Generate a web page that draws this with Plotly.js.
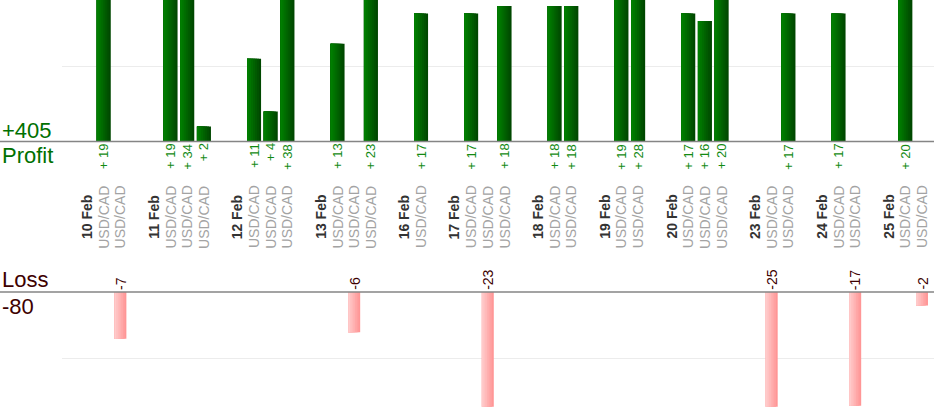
<!DOCTYPE html>
<html>
<head>
<meta charset="utf-8">
<script src="https://cdn.plot.ly/plotly-3.0.1.min.js"></script>
<style>html,body{margin:0;padding:0;background:#fff;}#chart{width:934px;height:420px;}</style>
</head>
<body>
<div id="chart"></div>
<script>
// ---- data ----
const dates = ['10 Feb','11 Feb','12 Feb','13 Feb','16 Feb','17 Feb','18 Feb','19 Feb','20 Feb','23 Feb','24 Feb','25 Feb'];
const results = [[19,-7],[19,34,2],[11,4,38],[13,-6,23],[17],[17,-23,18],[18,18],[19,28],[17,16,20],[-25,17],[17,-17],[20,-2]];
const pair = 'USD/CAD';
const profitTitle = 'Profit';
const lossTitle = 'Loss';

// ---- build slots ----
let slot = 0;
const dateX = [], tradeX = [], tradeV = [];
dates.forEach((d, i) => {
  slot++;               // blank spacer slot
  dateX.push(slot); slot++;
  results[i].forEach(v => { tradeX.push(slot); tradeV.push(v); slot++; });
});
const profitX = [], profitY = [], lossX = [], lossY = [];
tradeX.forEach((x, i) => {
  if (tradeV[i] > 0) { profitX.push(x); profitY.push(tradeV[i]); }
  else { lossX.push(x); lossY.push(tradeV[i]); }
});
const totalProfit = profitY.reduce((a, b) => a + b, 0);
const totalLoss = lossY.reduce((a, b) => a + b, 0);

// ---- geometry ----
const W = 934, H = 420, L = 62;
const profitDomain = [1 - 141.5 / H, 1];
const lossDomain = [(H - 406.7) / H, (H - 292) / H];
const leftPaper = -L / (W - L);
const FAM = 'Liberation Sans, Arial, sans-serif';

function lerp(c1, c2, t) {
  return 'rgb(' + c1.map((v, i) => Math.round(v + (c2[i] - v) * t)).join(',') + ')';
}
const N = 7;
const traces = [];
const PW = 0.84, LW = 0.71;
for (let k = 0; k < N; k++) {
  const t = k / (N - 1);
  traces.push({
    type: 'bar', x: profitX, y: profitY, xaxis: 'x', yaxis: 'y',
    width: PW * (1 - k / N), offset: -PW / 2,
    marker: { color: lerp([0, 72, 0], [0, 126, 0], t), line: { width: 0 } },
    hoverinfo: 'skip'
  });
  traces.push({
    type: 'bar', x: lossX, y: lossY, xaxis: 'x', yaxis: 'y2',
    width: LW * (1 - k / N), offset: -LW / 2,
    marker: { color: lerp([255, 150, 150], [255, 202, 202], t), line: { width: 0 } },
    hoverinfo: 'skip'
  });
}

const ann = [];
const labelY = (H - 217) / H;
dates.forEach((d, i) => {
  ann.push({ xref: 'x', yref: 'paper', x: dateX[i], y: labelY, text: '<b>' + d + '</b>',
    textangle: -90, showarrow: false, xanchor: 'center', yanchor: 'middle',
    font: { family: FAM, size: 14, color: '#333333' } });
});
tradeX.forEach((x, i) => {
  ann.push({ xref: 'x', yref: 'paper', x: x, y: labelY, text: pair,
    textangle: -90, showarrow: false, xanchor: 'center', yanchor: 'middle',
    font: { family: FAM, size: 14, color: '#a3a3a3' } });
});
profitX.forEach((x, i) => {
  ann.push({ xref: 'x', yref: 'paper', x: x, y: profitDomain[0], text: '+ ' + profitY[i],
    textangle: -90, showarrow: false, xanchor: 'center', yanchor: 'top', yshift: 0,
    font: { family: FAM, size: 13, color: '#138a13' } });
});
lossX.forEach((x, i) => {
  ann.push({ xref: 'x', yref: 'paper', x: x, y: lossDomain[1], text: String(lossY[i]),
    textangle: -90, showarrow: false, xanchor: 'center', yanchor: 'bottom', yshift: 0,
    font: { family: FAM, size: 14, color: '#3d0000' } });
});
const bigFont = (c) => ({ family: FAM, size: 22, color: c });
ann.push({ xref: 'paper', yref: 'paper', x: leftPaper, y: profitDomain[0], text: '+' + totalProfit,
  showarrow: false, xanchor: 'left', yanchor: 'bottom', yshift: -3, font: bigFont('#007000') });
ann.push({ xref: 'paper', yref: 'paper', x: leftPaper, y: profitDomain[0], text: profitTitle,
  showarrow: false, xanchor: 'left', yanchor: 'top', yshift: 1, font: bigFont('#007000') });
ann.push({ xref: 'paper', yref: 'paper', x: leftPaper, y: lossDomain[1], text: lossTitle,
  showarrow: false, xanchor: 'left', yanchor: 'bottom', yshift: -2, font: bigFont('#3d0000') });
ann.push({ xref: 'paper', yref: 'paper', x: leftPaper, y: lossDomain[1], text: String(totalLoss),
  showarrow: false, xanchor: 'left', yanchor: 'top', font: bigFont('#3d0000') });

const layout = {
  width: W, height: H,
  margin: { l: L, r: 0, t: 0, b: 0, pad: 0 },
  paper_bgcolor: '#ffffff', plot_bgcolor: 'rgba(0,0,0,0)',
  showlegend: false, barmode: 'overlay',
  font: { family: FAM },
  xaxis: { range: [-0.5, -0.5 + (W - L) / 16.7], showgrid: false, zeroline: false,
    showticklabels: false, showline: false, ticks: '', fixedrange: true },
  yaxis: { domain: profitDomain, range: [0, 18.8], dtick: 10, tick0: 0, showgrid: true,
    gridcolor: '#ececec', gridwidth: 1, zeroline: false, showticklabels: false, ticks: '', fixedrange: true },
  yaxis2: { domain: lossDomain, range: [-17.15, 0], anchor: 'x', dtick: 10, tick0: 0, showgrid: true,
    gridcolor: '#ececec', gridwidth: 1, zeroline: false, showticklabels: false, ticks: '', fixedrange: true },
  shapes: [
    { type: 'line', xref: 'paper', yref: 'paper', x0: leftPaper, x1: 1, y0: profitDomain[0], y1: profitDomain[0],
      line: { color: '#858585', width: 1.5 }, layer: 'above' },
    { type: 'line', xref: 'paper', yref: 'paper', x0: leftPaper, x1: 1, y0: lossDomain[1], y1: lossDomain[1],
      line: { color: '#858585', width: 1.5 }, layer: 'above' }
  ],
  annotations: ann
};

Plotly.newPlot('chart', traces, layout, { staticPlot: true, displayModeBar: false });
</script>
</body>
</html>
